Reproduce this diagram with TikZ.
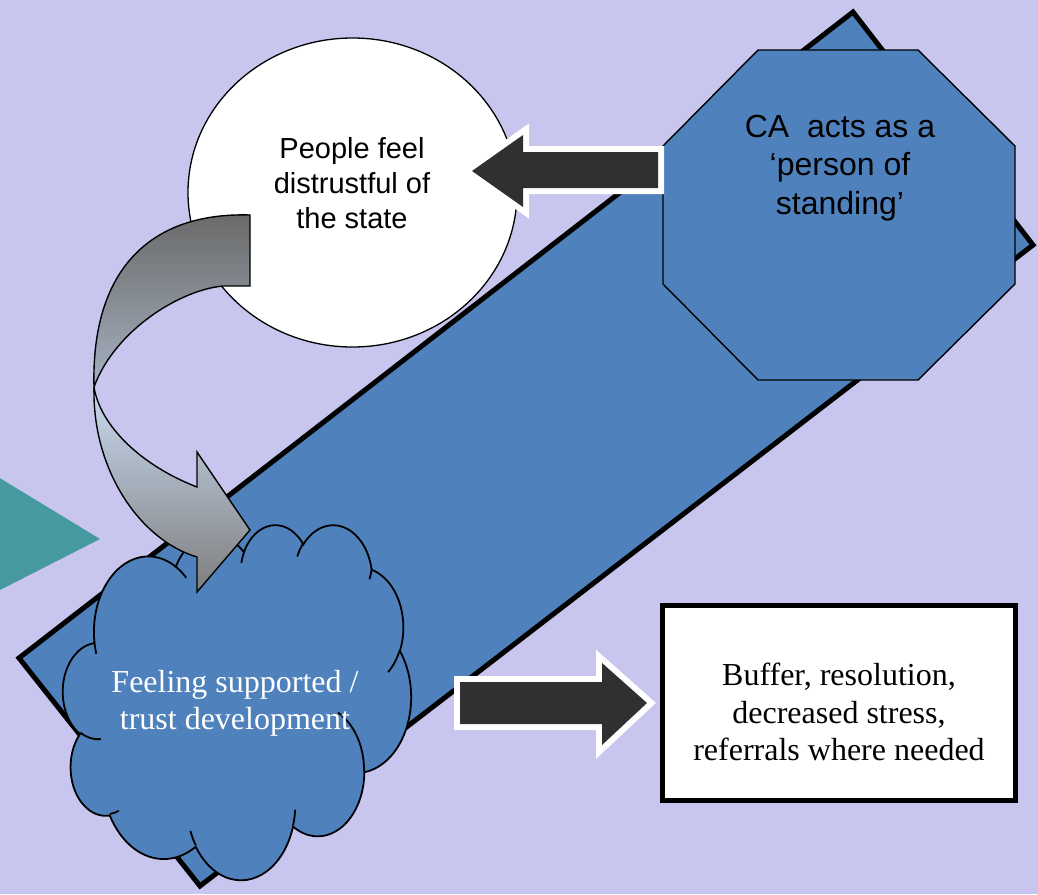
\documentclass[tikz,border=0pt]{standalone}
\usepackage{fontspec}
\setmainfont{Liberation Serif}
\newfontfamily\arialfont{Liberation Sans}
\usetikzlibrary{shapes.geometric}

\definecolor{pagebg}{RGB}{200,198,238}
\definecolor{panelblue}{RGB}{79,129,189}
\definecolor{tealmark}{RGB}{70,153,158}
\definecolor{arrowdark}{RGB}{48,48,48}
\definecolor{backtop}{RGB}{105,105,105}
\definecolor{backbot}{RGB}{165,177,192}
\definecolor{fronttop}{RGB}{200,218,240}
\definecolor{frontbot}{RGB}{126,126,126}

\tikzset{
  % elliptical arc given by radii, start angle and sweep (angles measured on the ellipse's outline)
  ooarc/.style n args={4}{
    /utils/exec={%
      \pgfmathsetmacro\ooS{atan2((#1)*sin(#3),(#2)*cos(#3))}%
      \pgfmathsetmacro\ooT{atan2((#1)*sin((#3)+(#4)),(#2)*cos((#3)+(#4)))}%
      \pgfmathsetmacro\ooE{\ooS+mod(\ooT-\ooS+720,360)}%
    },
    start angle=\ooS, end angle=\ooE, x radius=#1, y radius=#2},
  blockarrow/.style={fill=arrowdark,
    preaction={draw=white, line width=12pt, line join=miter}},
  outline/.style={draw=black, line width=1.4pt, line join=miter},
  sanslabel/.style 2 args={font=\arialfont\fontsize{#1}{#2}\selectfont, align=center, inner sep=0pt},
  seriflabel/.style 2 args={font=\fontsize{#1}{#2}\selectfont, align=center, inner sep=0pt},
}

\begin{document}
\begin{tikzpicture}[x=1pt, y=-1pt]
  % page
  \fill[pagebg] (0,0) rectangle (1038,894);
  \useasboundingbox (0,0) rectangle (1038,894);

  % teal pointer at the left margin
  \fill[tealmark] (-2,477) -- (100,539) -- (-2,591) -- cycle;

  % tilted blue panel
  \draw[fill=panelblue, line width=5pt, line join=miter]
    (853,12) -- (1033,245) -- (200,886) -- (19,658) -- cycle;

  % white disc
  \node (distrustdisc) [ellipse, draw=black, line width=1.3pt, fill=white,
    minimum width=329pt, minimum height=309pt, inner sep=0pt] at (352.5,192.5) {};

  % octagon
  \draw[outline, fill=panelblue]
    (758,50) -- (918,50) -- (1015,146) -- (1015,284) -- (918,380)
    -- (758,380) -- (663,284) -- (663,146) -- cycle;
  \coordinate (octleft) at (658,152);
  \coordinate (disctip) at (472,171);

  % block arrow from the octagon to the disc
  \path[blockarrow] (octleft) -- (523,152) -- (523,135) -- (disctip)
    -- (523,207) -- (523,188) -- (658,188) -- cycle;

  % block arrow from the cloud to the outcome box
  \coordinate (cloudright) at (460,682);
  \coordinate (boxtip) at (647,703);
  \path[blockarrow] (cloudright) -- (602,682) -- (602,663) -- (boxtip)
    -- (602,745) -- (602,724) -- (460,724) -- cycle;

  % cloud
  \begin{scope}[shift={(63pt,-524pt)}, x=0.8056pt, y=-0.8218pt]
    \draw[fill=panelblue, line width=1.8pt] (39.00,143.70)
      arc[ooarc={67.53}{91.90}{-190.4875}{123.7805}]
      arc[ooarc={53.33}{72.67}{-144.1024}{89.9452}]
      arc[ooarc={43.65}{59.45}{-145.8079}{99.7230}]
      arc[ooarc={48.57}{65.95}{-130.9861}{117.2417}]
      arc[ooarc={53.33}{72.73}{-78.7089}{109.0269}]
      arc[ooarc={67.75}{92.20}{-46.2673}{130.2690}]
      arc[ooarc={57.85}{78.67}{0.6250}{114.0333}]
      arc[ooarc={67.52}{92.15}{22.4516}{115.1726}]
      arc[ooarc={77.20}{105.43}{66.2426}{75.7110}]
      arc[ooarc={43.60}{59.18}{-274.9421}{146.7356}]
      arc[ooarc={43.45}{59.45}{-246.8285}{152.5189}]
      -- cycle;
    \draw[line width=1.8pt]
      (46.93,261.77) arc[ooarc={43.45}{59.45}{86.742}{26.4295}]
      (69.28,348.99) arc[ooarc={43.60}{59.18}{73.6105}{11.4475}]
      (164.78,390.90) arc[ooarc={67.52}{92.15}{137.6242}{14.0811}]
      (288.27,347.51) arc[ooarc={67.52}{92.15}{6.4533}{15.9984}]
      (341.29,229.54) arc[ooarc={57.85}{78.67}{-70.2924}{70.9174}]
      (417.98,153.54) arc[ooarc={53.33}{72.73}{30.3180}{27.7515}]
      (383.24,54.26) arc[ooarc={48.57}{65.95}{13.7443}{14.8589}]
      (290.78,39.52) arc[ooarc={48.57}{65.95}{-149.1815}{18.1954}]
      (221.41,47.20) arc[ooarc={43.65}{59.45}{-163.4943}{17.6864}]
      (140.00,51.92) arc[ooarc={67.53}{91.90}{-66.7070}{12.3194}]
      (41.27,157.89) arc[ooarc={67.53}{91.90}{157.6544}{11.8582}];
  \end{scope}

  % curved arrow from the disc down to the cloud: back face, then front face
  \coordinate (tailtop) at (250,215);
  \coordinate (bend) at (94,387);
  \coordinate (headtip) at (250,530);
  \path[outline, top color=backtop, bottom color=backbot]
    (tailtop) -- (250,286) -- (223,286)
    .. controls (180,290) and (115,330) .. (bend)
    .. controls (91,270) and (150,212) .. (tailtop) -- cycle;
  \path[outline, top color=fronttop, bottom color=frontbot]
    (bend) .. controls (92,470) and (140,540) .. (197,557)
    -- (197,592) -- (headtip) -- (197,452) -- (197,487)
    .. controls (140,465) and (100,425) .. (bend) -- cycle;

  % outcome box
  \draw[fill=white, line width=5pt, line join=miter] (662.5,605.5) rectangle (1015.5,800.5);

  % labels
  \node (distrusttext) [sanslabel={29}{35}] at (352,183)
    {People feel\\distrustful of\\the state};
  \node (standingtext) [sanslabel={32}{38.5}] at (840,168)
    {CA\ \ acts as a\\‘person of\\standing’};
  \node (supporttext) [seriflabel={32}{37}, text=white] at (235,703)
    {Feeling supported /\\trust development};
  \node (outcometext) [seriflabel={32}{37.5}] at (839,712)
    {Buffer, resolution,\\decreased stress,\\referrals where needed};
\end{tikzpicture}
\end{document}
